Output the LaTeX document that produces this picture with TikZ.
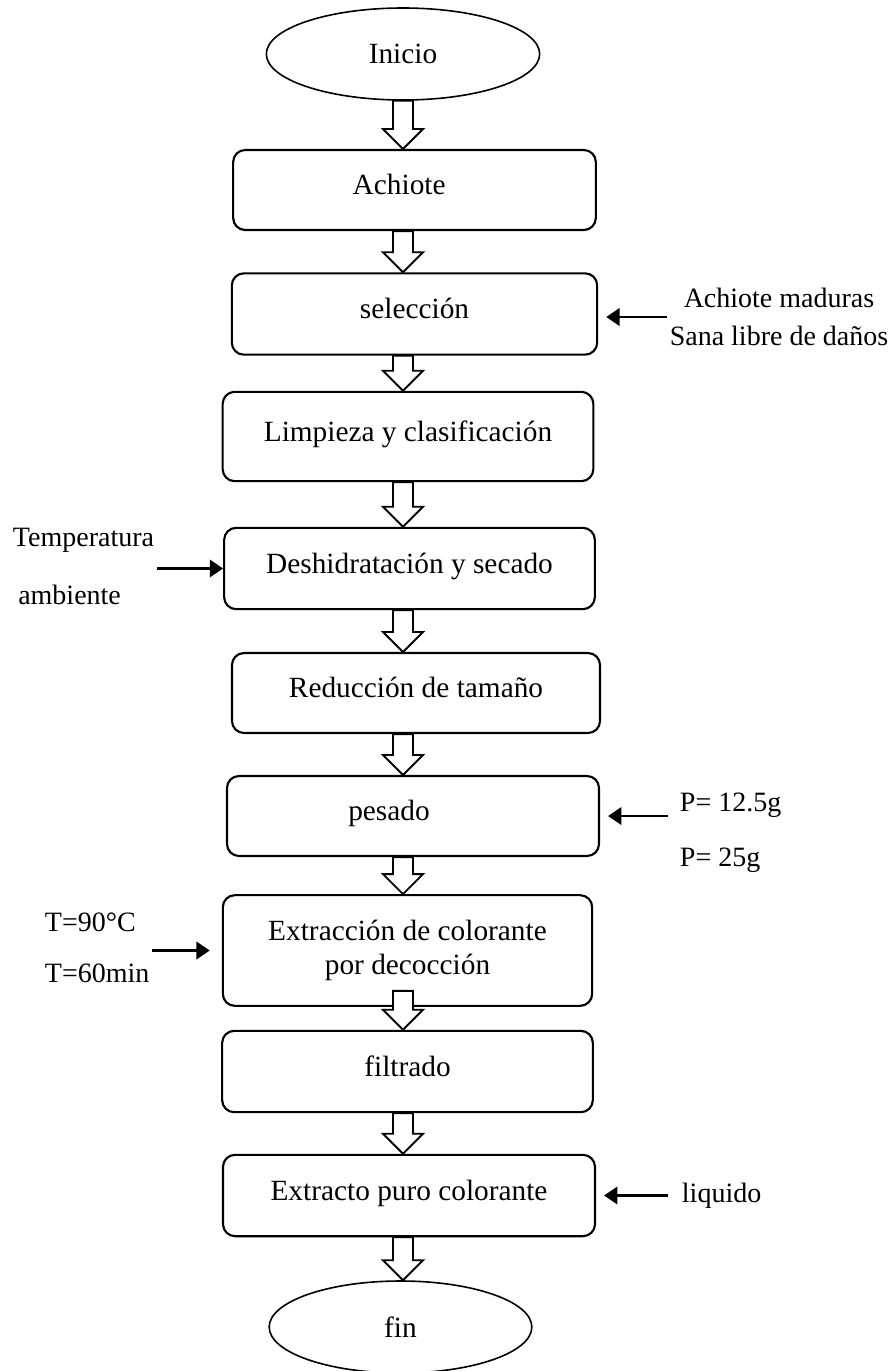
\documentclass[tikz,border=0pt]{standalone}
\usepackage{fontspec}
\setmainfont{Liberation Serif}
\usepackage{tikz}
\usetikzlibrary{shapes.geometric,arrows.meta,calc}

\tikzset{
  caja/.style={draw, line width=1.6pt, rounded corners=9pt, fill=white,
    minimum width=278pt, minimum height=61pt, inner sep=2pt,
    text height=15pt, text depth=8pt, font=\fontsize{22}{26}\selectfont},
  ovalo/.style={draw, ellipse, line width=1.2pt, inner sep=0pt,
    minimum width=205pt, minimum height=69pt, font=\fontsize{22}{26}\selectfont},
  nota/.style={inner sep=2pt, font=\fontsize{21}{25}\selectfont},
  bloque/.style={draw, line width=1.4pt, fill=white, line join=miter},
  flechita/.style={line width=2pt, -{Triangle[length=10pt,width=13pt]}}
}

% block arrow between two steps, on the column of the start node
\newcommand{\flecha}[3][0pt]{%
  \draw[bloque] let \p1=($(inicio.center |- #2.south)+(0,#1)$),
                    \p2=(inicio.center |- #3.north) in
    (\x1-7.5pt,\y1) -- (\x1-7.5pt,\y2+15pt) -- (\x1-15pt,\y2+15pt)
    -- (\x2,\y2) -- (\x1+15pt,\y2+15pt) -- (\x1+7.5pt,\y2+15pt)
    -- (\x1+7.5pt,\y1) -- cycle;}

\begin{document}
\begin{tikzpicture}[x=0.75pt, y=-0.75pt]
  \useasboundingbox (0,0) rectangle (893,1371);
  % Define nodes
  \node[ovalo] (inicio) at (403,54) {Inicio};
  \node[caja, minimum width=272pt, minimum height=60pt] (achiote) at (414.5,190) {Achiote\hspace*{23pt}};
  \node[caja, minimum width=274pt] (seleccion) at (414.5,314) {selección};
  \node[caja, minimum height=67pt] (limpieza) at (408,436.5) {Limpieza y clasificación};
  \node[caja] (deshid) at (409.5,568.5) {Deshidratación y secado};
  \node[caja, minimum width=276pt, minimum height=60pt] (reduccion) at (416,693) {Reducción de tamaño};
  \node[caja, minimum width=279pt, minimum height=60pt] (pesado) at (413,816) {pesado\hspace*{36pt}};
  \node[caja, minimum width=277pt, minimum height=83pt, align=center,
        text height=, text depth=] (extraccion) at (407.5,950.5)
        {Extracción de colorante\\[-1pt]por decocción};
  \node[caja] (filtrado) at (407.5,1071.5) {filtrado};
  \node[caja, minimum width=279pt] (extracto) at (409,1195.5) {Extracto puro colorante};
  \node[ovalo, minimum width=197pt] (fin) at (400.5,1327) {fin};

  % side notes
  \node[nota, align=center] (nota-sel) at (779,317) {Achiote maduras\\[3.5pt]Sana libre de daños};
  \node[nota, align=left, anchor=west] (nota-temp) at (10,566.5) {Temperatura\\[18pt]\hspace*{4pt}ambiente};
  \node[nota, align=left, anchor=west] (nota-peso) at (677,832.5) {P= 12.5g\\[16pt]P= 25g};
  \node[nota, align=left, anchor=west] (nota-t) at (42,947.5) {T=90°C\\[13pt]T=60min};
  \node[nota, anchor=west] (nota-liq) at (679,1195.5) {liquido};

  % Connect nodes
  \flecha{inicio}{achiote}
  \flecha{achiote}{seleccion}
  \flecha{seleccion}{limpieza}
  \flecha{limpieza}{deshid}
  \flecha{deshid}{reduccion}
  \flecha{reduccion}{pesado}
  \flecha{pesado}{extraccion}
  \flecha[12pt]{extraccion}{filtrado}
  \flecha{filtrado}{extracto}
  \flecha{extracto}{fin}

  \draw[flechita, shorten >=6pt] (nota-sel.west) -- (nota-sel.west -| seleccion.east);
  \draw[flechita] (nota-temp.east |- deshid.west) -- (deshid.west);
  \draw[flechita, shorten <=7pt, shorten >=6pt] (nota-peso.west |- pesado.east) -- (pesado.east);
  \draw[flechita, shorten >=9pt] (nota-t.east |- extraccion.west) -- (extraccion.west);
  \draw[flechita, shorten <=8pt, shorten >=6pt] (nota-liq.west) -- (nota-liq.west -| extracto.east);
\end{tikzpicture}
\end{document}
